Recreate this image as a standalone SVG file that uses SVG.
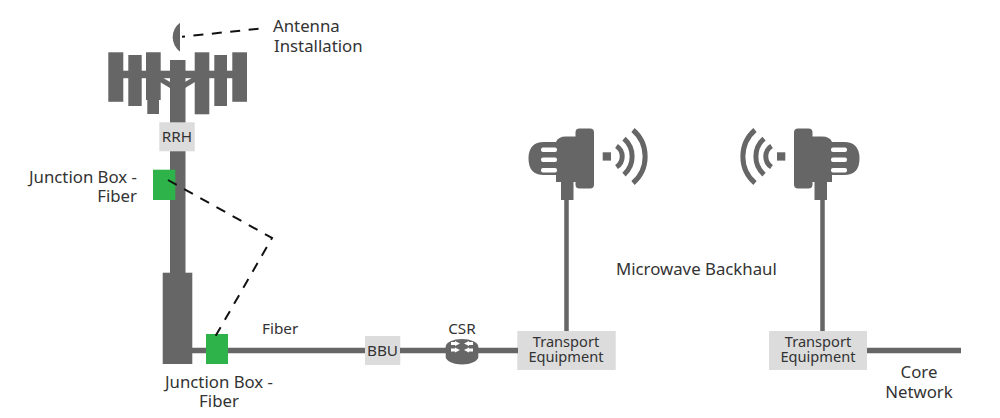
<svg xmlns="http://www.w3.org/2000/svg" width="1000" height="418" viewBox="0 0 1000 418">
<style>
text{font-family:"Noto Sans","Open Sans","Liberation Sans",sans-serif;font-size:16.800px;fill:#333}
.s{font-size:14.600px}
.t{font-size:15.300px}
.m{text-anchor:middle}
.e{text-anchor:end}
.d{fill:#666}
.b{fill:#dcdcdc}
.g{fill:#2db34a}
.l{stroke:#666;fill:none}
.a{stroke:#666;fill:none;stroke-width:5}
.w{fill:#fff}
.k{stroke:#111;fill:none;stroke-width:2;stroke-dasharray:10 8.500}
</style>
<defs>
<g id="dish">
<rect class="d" x="575.500" y="128.500" width="18.500" height="60" rx="4"/>
<path class="d" d="M580 136.500H566Q558 136.500 556 142H544Q528.500 142 528.500 158.500Q528.500 175 544 175H556V182Q558 182 561 182V200H573.500V182H580Z"/>
<rect class="w" x="541" y="147.500" width="16" height="4.500" rx="2"/>
<rect class="w" x="541" y="157.500" width="16" height="4.500" rx="2"/>
<rect class="w" x="541" y="168" width="16" height="4.500" rx="2"/>
<rect class="d" x="602.700" y="152.300" width="8.300" height="8.300"/>
<path class="a" d="M616.500 146A12.500 12.500 0 0 1 616.500 167"/>
<path class="a" d="M624 138.500A24 24 0 0 1 624 174.500"/>
<path class="a" d="M633 130A35 35 0 0 1 633 183"/>
</g>
</defs>
<g id="tower">
<rect class="d" x="170" y="60" width="15.500" height="213"/>
<rect class="d" x="162.700" y="272.700" width="29.600" height="91.300"/>
<rect class="d" x="108.300" y="52.300" width="15" height="49.500"/>
<rect class="d" x="128.300" y="55" width="13.400" height="51"/>
<path class="d" d="M146 52.300H160.700V100H159V114H147.300V100H146Z"/>
<rect class="d" x="194.700" y="52.300" width="14.600" height="62"/>
<rect class="d" x="214.300" y="55" width="12.700" height="51"/>
<rect class="d" x="232.300" y="52.300" width="14.700" height="49.500"/>
<rect class="d" x="120" y="70.700" width="115" height="7.500"/>
<path class="d" d="M160 76L170 82V88L160 82ZM195 76L185 82V88L195 82Z"/>
<path class="d" d="M180 22.700A18 18 0 0 0 180 51.700Z"/>
</g>
<g id="antenna-label"><text x="273" y="32">Antenna<tspan x="274" y="52">Installation</tspan></text></g>
<g id="rrh"><rect class="b" x="159.300" y="122.300" width="35.400" height="29"/><text class="t m" x="177" y="142">RRH</text></g>
<g id="jb-top"><rect class="g" x="153" y="169.700" width="22.300" height="30.300"/><text class="e" x="137" y="183">Junction Box -<tspan x="137" y="202">Fiber</tspan></text></g>
<g id="jb-bottom"><rect class="g" x="206" y="334" width="22" height="30"/><text class="m" x="219" y="388">Junction Box -<tspan x="219" y="407">Fiber</tspan></text></g>
<g id="fiber"><text class="t" x="262" y="334">Fiber</text></g>
<g id="bbu"><rect class="b" x="365" y="336" width="35.300" height="29"/><text class="t m" x="382.500" y="356">BBU</text></g>
<g id="csr">
<path class="d" d="M445.700 347V357C445.700 361 454 364.500 462 364.500S478.300 361 478.300 357V347Z"/>
<ellipse cx="462" cy="347" rx="16.300" ry="8" class="d"/>
<path class="w" d="M451 342h4v-1l5 2.500-5 2.500v-1h-4ZM473 342h-4v-1l-5 2.500 5 2.500v-1h4ZM451 348.500h4v-1l5 2.500-5 2.500v-1h-4ZM473 348.500h-4v-1l-5 2.500 5 2.500v-1h4Z"/>
<text class="t m" x="462" y="334">CSR</text>
</g>
<g id="transport-left"><rect class="b" x="517.300" y="331" width="98.400" height="39"/><text class="s m" x="566" y="347">Transport<tspan x="566" y="361.500">Equipment</tspan></text></g>
<g id="transport-right"><rect class="b" x="769" y="331" width="98" height="39"/><text class="s m" x="818" y="347">Transport<tspan x="818" y="361.500">Equipment</tspan></text></g>
<g id="dish-left"><use href="#dish"/></g>
<g id="dish-right"><use href="#dish" transform="matrix(-1 0 0 1 1388 0)"/></g>
<g id="labels"><text x="616" y="275">Microwave Backhaul</text><text class="m" x="919" y="378">Core<tspan x="919" y="398">Network</tspan></text></g>
<g id="connectors">
<path class="l" stroke-width="5.500" d="M192 350.500H206M228 350.500H365M400 350.500H446M478 350.500H518"/>
<path class="l" stroke-width="4.500" d="M566.500 198V331M822.500 198V331"/>
<path class="l" stroke-width="5.500" d="M867 350.500H961"/>
<path class="k" stroke-dashoffset="7" d="M182 36.800L265 28"/>
<path class="k" d="M168 180L272 238L215 337"/>
</g>
</svg>
